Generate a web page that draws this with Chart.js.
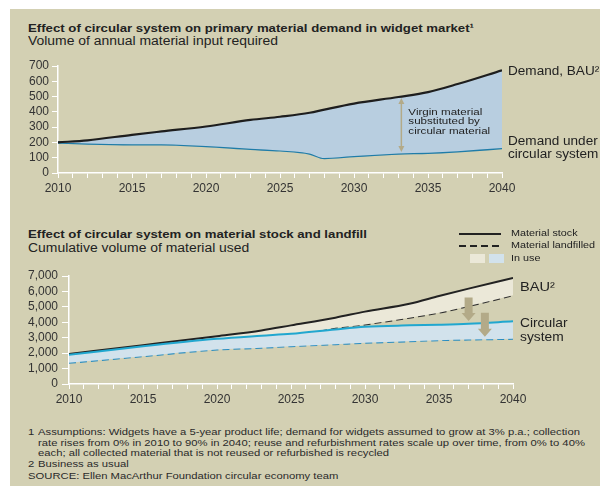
<!DOCTYPE html>
<html>
<head>
<meta charset="utf-8">
<script src="https://cdn.jsdelivr.net/npm/chart.js@4.4.1/dist/chart.umd.min.js"></script>
<style>
body{margin:0;background:#fff;width:600px;height:489px;overflow:hidden;position:relative;font-family:"Liberation Sans",Arial,sans-serif;color:#222}
#panel{position:absolute;left:10px;top:9px;width:590px;height:477px;background:#d3d0b3}
.t{position:absolute;white-space:nowrap;line-height:1;transform-origin:0 0}
.b{font-weight:bold;font-size:11px;transform:scaleX(1.2)}
.s{font-size:12px;transform:scaleX(1.16)}
.f{font-size:8.6px;color:#2a2a2a;transform:scaleX(1.31)}
canvas{position:absolute;left:0}
</style>
</head>
<body>
<div id="panel"></div>

<div class="t b" style="left:28px;top:22.6px">Effect of circular system on primary material demand in widget market¹</div>
<div class="t s" style="left:28px;top:35.1px">Volume of annual material input required</div>
<canvas id="demandChart" width="600" height="150" style="top:50px"></canvas>

<div class="t b" style="left:28px;top:228.6px">Effect of circular system on material stock and landfill</div>
<div class="t s" style="left:28px;top:242.1px">Cumulative volume of material used</div>
<canvas id="stockChart" width="600" height="185" style="top:225px"></canvas>

<div class="t f" style="left:28px;top:428.3px">1</div>
<div class="t f" style="left:38px;top:428.3px">Assumptions: Widgets have a 5-year product life; demand for widgets assumed to grow at 3% p.a.; collection</div>
<div class="t f" style="left:38px;top:438.8px">rate rises from 0% in 2010 to 90% in 2040; reuse and refurbishment rates scale up over time, from 0% to 40%</div>
<div class="t f" style="left:38px;top:449.3px">each; all collected material that is not reused or refurbished is recycled</div>
<div class="t f" style="left:28px;top:459.8px">2</div>
<div class="t f" style="left:38px;top:459.8px">Business as usual</div>
<div class="t f" style="left:28px;top:471.8px">SOURCE: Ellen MacArthur Foundation circular economy team</div>

<script>
// top chart: annual material input
const years1=[2010,2012,2015,2017,2020,2023,2025,2027,2028,2030,2033,2035,2037,2040]
const demandBAU=[200,214,250,272,304,347,368,394,415,454,497,529,582,672]
const demandCircular=[200,193,188,188,176,158,148,128,98,111,128,133,143,163]

// bottom chart: cumulative stock and landfill
const years2=[2010,2015,2020,2023,2025,2028,2030,2033,2035,2037,2040]
const stockBAU=[1950,2520,3100,3470,3800,4300,4690,5200,5700,6180,6880]
const landfillBAU=[1430,1900,2500,2850,3100,3640,3860,4300,4620,5050,5750]
const stockCircular=[1890,2450,2930,3130,3250,3540,3710,3800,3840,3900,4060]
const landfillCircular=[1370,1800,2230,2350,2450,2580,2670,2770,2840,2880,2930]

// annotations (data units)
const virginArrow={year:2033.2,from:490,to:137}
const stockArrows=[{year:2037,from:5600,to:4080},{year:2038.1,from:4620,to:3060}]

const FONT="'Liberation Sans', Arial, sans-serif"
const WHITE="#ffffff"
const TAN="#b3aa88"

function pts(xs,ys)
{
return xs.map((x,i)=>({x:x,y:ys[i]}))
}

// text drawn a little wider than it is tall, like the reference
function wideText(ctx,text,x,y,sx)
{
ctx.save()
ctx.translate(x,y)
ctx.scale(sx,1)
ctx.fillText(text,0,0)
ctx.restore()
}

function axisX(height)
{
return {
type:"linear",
min:2010,
max:2040,
border:{color:WHITE,width:1.5},
grid:{drawOnChartArea:false,color:WHITE,tickLength:5,lineWidth:1},
ticks:{
stepSize:1,
autoSkip:false,
maxRotation:0,
padding:3,
color:"#333",
font:{family:FONT,size:12},
callback:v=>v%5===0?String(v):""
},
afterFit:s=>{s.height=height}
}
}

function axisY(max,step,width,tl,pad)
{
return {
min:0,
max:max,
border:{color:WHITE,width:1.5},
grid:{drawOnChartArea:false,color:WHITE,tickLength:tl,lineWidth:1},
ticks:{stepSize:step,autoSkip:false,padding:pad,color:"#333",font:{family:FONT,size:12}},
afterFit:s=>{s.width=width}
}
}

function drawArrowLine(ctx,x,y1,y2)
{
ctx.save()
ctx.strokeStyle=TAN
ctx.fillStyle=TAN
ctx.lineWidth=1.5
ctx.beginPath()
ctx.moveTo(x,y1+3)
ctx.lineTo(x,y2-3)
ctx.stroke()
ctx.beginPath()
ctx.moveTo(x,y1)
ctx.lineTo(x-3,y1+6)
ctx.lineTo(x+3,y1+6)
ctx.fill()
ctx.beginPath()
ctx.moveTo(x,y2)
ctx.lineTo(x-3,y2-6)
ctx.lineTo(x+3,y2-6)
ctx.fill()
ctx.restore()
}

function drawBlockArrow(ctx,x,y1,y2)
{
ctx.save()
ctx.fillStyle=TAN
ctx.beginPath()
ctx.moveTo(x-4,y1)
ctx.lineTo(x+4,y1)
ctx.lineTo(x+4,y2-8)
ctx.lineTo(x+7,y2-8)
ctx.lineTo(x,y2)
ctx.lineTo(x-7,y2-8)
ctx.lineTo(x-4,y2-8)
ctx.closePath()
ctx.fill()
ctx.restore()
}

const demandNotes={
id:"demandNotes",
afterDatasetsDraw(chart)
{
const {ctx,chartArea}=chart
const x=chart.scales.x
const y=chart.scales.y
let ax=x.getPixelForValue(virginArrow.year)
drawArrowLine(ctx,ax,y.getPixelForValue(virginArrow.from),y.getPixelForValue(virginArrow.to))
ctx.save()
ctx.fillStyle="#222"
ctx.textBaseline="middle"
ctx.font="9.5px "+FONT
wideText(ctx,"Virgin material",ax+7,62,1.22)
wideText(ctx,"substituted by",ax+7,71.5,1.22)
wideText(ctx,"circular material",ax+7,81,1.22)
ctx.font="12px "+FONT
let r=chartArea.right+6
wideText(ctx,"Demand, BAU²",r,y.getPixelForValue(demandBAU[demandBAU.length-1])+1,1.13)
let c=y.getPixelForValue(demandCircular[demandCircular.length-1])
wideText(ctx,"Demand under",r,c-6,1.13)
wideText(ctx,"circular system",r,c+7,1.13)
ctx.restore()
}
}

const stockNotes={
id:"stockNotes",
afterDatasetsDraw(chart)
{
const {ctx,chartArea}=chart
const x=chart.scales.x
const y=chart.scales.y
stockArrows.forEach(a=>{
drawBlockArrow(ctx,x.getPixelForValue(a.year),y.getPixelForValue(a.from),y.getPixelForValue(a.to))
})
ctx.save()
ctx.fillStyle="#222"
ctx.textBaseline="middle"
ctx.font="13px "+FONT
let r=chartArea.right+7
wideText(ctx,"BAU²",r,62,1.12)
wideText(ctx,"Circular",r,98,1.06)
wideText(ctx,"system",r,112,1.06)

// legend
ctx.strokeStyle="#222"
ctx.lineWidth=2
ctx.beginPath()
ctx.moveTo(459,9)
ctx.lineTo(501,9)
ctx.stroke()
ctx.setLineDash([7,4])
ctx.beginPath()
ctx.moveTo(459,21)
ctx.lineTo(501,21)
ctx.stroke()
ctx.setLineDash([])
ctx.fillStyle="#ebe8d8"
ctx.fillRect(470,29,15,9)
ctx.fillStyle="#d2e2ec"
ctx.fillRect(489,29,15,9)
ctx.fillStyle="#222"
ctx.font="9px "+FONT
wideText(ctx,"Material stock",511,9,1.2)
wideText(ctx,"Material landfilled",511,21,1.2)
wideText(ctx,"In use",511,34,1.2)
ctx.restore()
}
}

new Chart(document.getElementById("demandChart"),
{
type:"line",
data:
{
datasets:[
{
label:"Demand, BAU",
data:pts(years1,demandBAU),
borderColor:"#1e1e1e",
borderWidth:2.2,
pointRadius:0,
cubicInterpolationMode:"monotone",
fill:"+1",
backgroundColor:"#b8cee0"
},
{
label:"Demand under circular system",
data:pts(years1,demandCircular),
borderColor:"#1f7ca8",
borderWidth:2.5,
pointRadius:0,
cubicInterpolationMode:"monotone",
fill:false
}
]
},
options:
{
responsive:false,
animation:false,
events:[],
layout:{padding:{top:16,right:98,left:0,bottom:0}},
plugins:{legend:{display:false},tooltip:{enabled:false}},
scales:{x:axisX(27),y:axisY(700,100,58,6,3)}
},
plugins:[demandNotes]
})

new Chart(document.getElementById("stockChart"),
{
type:"line",
data:
{
datasets:[
{
label:"Circular stock",
data:pts(years2,stockCircular),
borderColor:"#21a7cf",
borderWidth:2,
pointRadius:0,
cubicInterpolationMode:"monotone",
fill:"+1",
backgroundColor:"#d2e2ec"
},
{
label:"Circular landfilled",
data:pts(years2,landfillCircular),
borderColor:"#2b8dc0",
borderWidth:2,
borderDash:[7,4],
pointRadius:0,
cubicInterpolationMode:"monotone",
fill:false
},
{
label:"BAU stock",
data:pts(years2,stockBAU),
borderColor:"#222",
borderWidth:2,
pointRadius:0,
cubicInterpolationMode:"monotone",
fill:"+1",
backgroundColor:"#ebe8d8"
},
{
label:"BAU landfilled",
data:pts(years2,landfillBAU),
borderColor:"#2e2e2e",
borderWidth:2,
borderDash:[7,4],
pointRadius:0,
cubicInterpolationMode:"monotone",
fill:false
}
]
},
options:
{
responsive:false,
animation:false,
events:[],
layout:{padding:{top:51,right:87,left:0,bottom:0}},
plugins:{legend:{display:false},tooltip:{enabled:false}},
scales:{x:axisX(26),y:axisY(7000,1000,69,7,4)}
},
plugins:[stockNotes]
})
</script>
</body>
</html>
